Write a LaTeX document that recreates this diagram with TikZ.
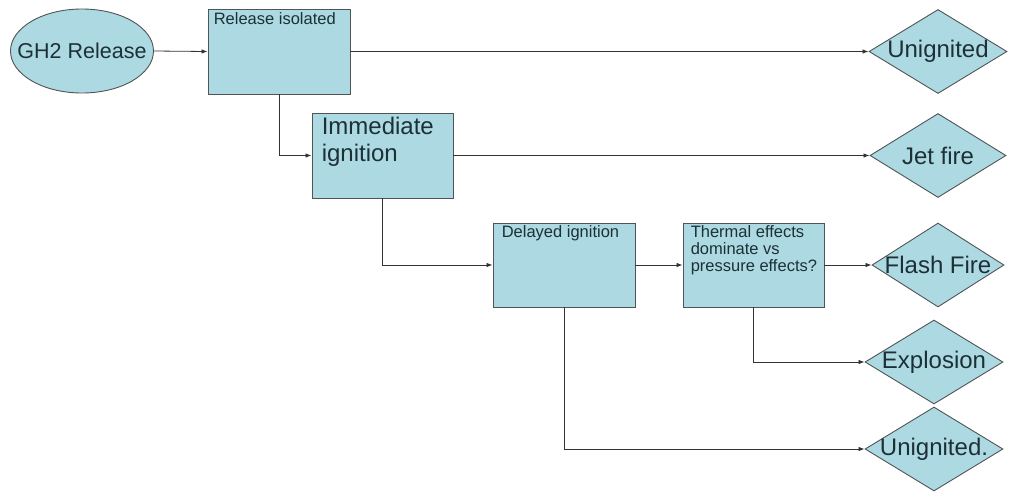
\documentclass[tikz,border=0pt]{standalone}
\usepackage{fontspec}
\setmainfont{Liberation Sans}
\usetikzlibrary{shapes.geometric,arrows.meta}
\definecolor{boxfill}{RGB}{173,218,226}
\definecolor{boxline}{RGB}{80,84,86}
\definecolor{txt}{RGB}{28,48,54}
\tikzset{
  every node/.style={text=txt},
  box/.style={draw=boxline, fill=boxfill, line width=0.9pt, rectangle, minimum width=142pt, minimum height=85pt, inner sep=0pt},
  dia/.style={draw=boxline, fill=boxfill, line width=0.9pt, diamond, minimum width=138pt, minimum height=84pt, inner sep=0pt},
  ell/.style={draw=boxline, fill=boxfill, line width=0.9pt, ellipse, minimum width=143pt, minimum height=84pt, inner sep=0pt},
  small/.style={anchor=north west, inner sep=0pt, align=left, font=\fontsize{16.5}{17}\selectfont},
  big/.style={font=\fontsize{24}{27}\selectfont},
  conn/.style={draw=black!80, line width=0.8pt, -{Latex[length=6pt,width=4.5pt]}}
}
\begin{document}
\begin{tikzpicture}[x=1pt,y=-1pt]
\useasboundingbox (0,0) rectangle (1009,491);
% nodes
\node[ell] (gh2) at (82,51) {};
\node[font=\fontsize{21.5}{24}\selectfont] (gh2t) at (gh2.center) {GH2 Release};
\node[box] (b1) at (279,51.5) {};
\node[small] (b1t) at ([shift={(6,4)}]b1.north west) {Release isolated};
\node[box, minimum width=141pt] (b2) at (382.5,155.5) {};
\node[anchor=north west, inner sep=0pt, align=left, big] (b2t) at ([shift={(10,4)}]b2.north west) {Immediate\\ignition};
\node[box, minimum height=84pt] (b3) at (564,265) {};
\node[small] (b3t) at ([shift={(9,2.5)}]b3.north west) {Delayed ignition};
\node[box, minimum width=141pt, minimum height=84pt] (b4) at (753.5,265) {};
\node[small] (b4t) at ([shift={(8,2.5)}]b4.north west) {Thermal effects\\dominate vs\\pressure effects?};
% diamonds
\node[dia] (d1) at (938,51.5) {};
\node[big] (d1t) at (d1.center) {Unignited};
\node[dia, minimum width=136pt] (d2) at (938,155.5) {};
\node[big] (d2t) at (d2.center) {Jet fire};
\node[dia, minimum width=132pt] (d3) at (938,265) {};
\node[big] (d3t) at (d3.center) {Flash Fire};
\node[dia] (d4) at (934,362) {};
\node[big] (d4t) at (d4.center) {Explosion};
\node[dia] (d5) at (934,449) {};
\node[big] (d5t) at (d5.center) {Unignited.};
% connectors
\draw[conn] (gh2.east) -- (b1.west);
\draw[conn] (b1.east) -- (d1.west);
\draw[conn] (b1.south) |- (b2.west);
\draw[conn] (b2.east) -- (d2.west);
\draw[conn] (b2.south) |- (b3.west);
\draw[conn] (b3.east) -- (b4.west);
\draw[conn] (b4.east) -- (d3.west);
\draw[conn] (b4.south) |- (d4.west);
\draw[conn] (b3.south) |- (d5.west);
\end{tikzpicture}
\end{document}
